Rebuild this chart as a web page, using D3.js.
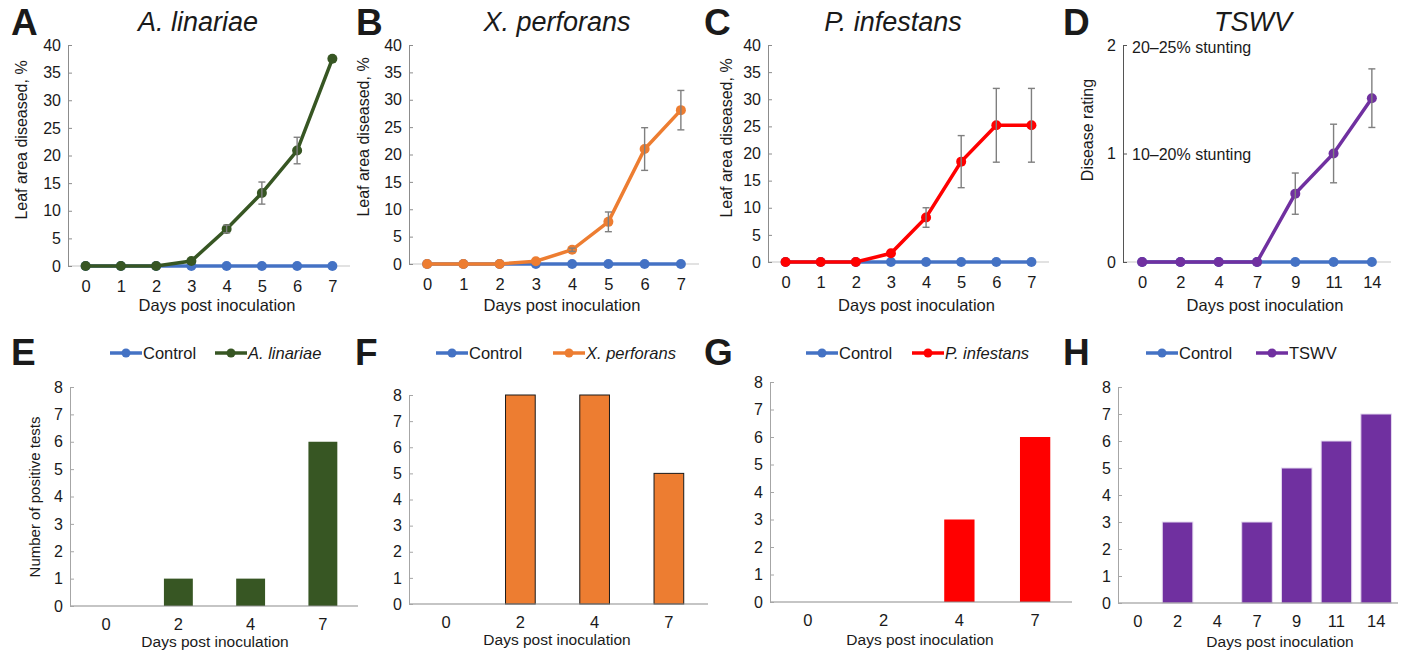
<!DOCTYPE html>
<html>
<head>
<meta charset="utf-8">
<script src="https://cdn.jsdelivr.net/npm/d3@7"></script>
<style>
    body { margin: 0; background: #fff; }
    svg text { font-family: "Liberation Sans", Arial, sans-serif; fill: #1a1a1a; }
</style>
</head>
<body>
<svg id="chart" width="1402" height="651"></svg>
<script>
// Tick labels (days post inoculation)
const daysTop = ["0", "1", "2", "3", "4", "5", "6", "7"];
const daysTSWV = ["0", "2", "4", "7", "9", "11", "14"];
const daysTested = ["0", "2", "4", "7"];

// Leaf area diseased, % (mean and error)
const controlTop = [0, 0, 0, 0, 0, 0, 0, 0];
const linariaeMean = [0, 0, 0, 0.9, 6.7, 13.2, 20.9, 37.5];
const linariaeErr = [0, 0, 0, 0, 0.7, 2.0, 2.4, 0];
const perforansMean = [0, 0, 0, 0.5, 2.6, 7.7, 21.0, 28.1];
const perforansErr = [0, 0, 0, 0, 0.3, 1.8, 3.9, 3.6];
const infestansMean = [0, 0, 0, 1.6, 8.2, 18.5, 25.2, 25.2];
const infestansErr = [0, 0, 0, 0, 1.8, 4.8, 6.8, 6.8];

// Disease rating for TSWV
const controlTSWV = [0, 0, 0, 0, 0, 0, 0];
const tswvMean = [0, 0, 0, 0, 0.63, 1.0, 1.51];
const tswvErr = [0, 0, 0, 0, 0.19, 0.27, 0.27];

// Number of positive tests
const linariaePositive = [0, 1, 1, 6];
const perforansPositive = [0, 8, 8, 5];
const infestansPositive = [0, 0, 3, 6];
const tswvPositive = [0, 3, 0, 3, 5, 6, 7];

const COLORS = {
    control: "#4472c4",
    linariae: "#375623",
    perforans: "#ed7d31",
    infestans: "#ff0000",
    tswv: "#7030a0"
};

const svg = d3.select("#chart");

function panelLetter(letter, x, y) {
    svg.append("text")
        .attr("x", x).attr("y", y)
        .attr("font-size", 37).attr("font-weight", "bold")
        .text(letter);
}

function drawLinePanel(p) {
    const g = svg.append("g");
    const x = d3.scalePoint().domain(p.days).range([p.left, p.right]).padding(0.5);
    const y = d3.scaleLinear().domain([0, p.yMax]).range([p.bottom, p.top]);

    panelLetter(p.letter, p.letterX, 35);

    g.append("text")
        .attr("x", p.titleX).attr("y", 31)
        .attr("text-anchor", "middle")
        .attr("font-size", 27).attr("font-style", "italic")
        .text(p.title);

    // baseline
    g.append("line")
        .attr("x1", p.left).attr("x2", p.right)
        .attr("y1", y(0)).attr("y2", y(0))
        .attr("stroke", "#d9d9d9").attr("stroke-width", 1.5);

    const yAxis = d3.axisLeft(y).tickValues(p.yTicks).tickFormat(d3.format("d"))
        .tickSize(-4).tickSizeOuter(0).tickPadding(7);
    g.append("g")
        .attr("transform", `translate(${p.left},0)`)
        .call(yAxis)
        .call(a => a.select(".domain").attr("stroke", p.yAxisColor))
        .call(a => a.selectAll(".tick line").attr("stroke", p.yAxisColor))
        .call(a => a.selectAll(".tick text").attr("font-size", 16).attr("fill", "#1a1a1a"));

    const xAxis = d3.axisBottom(x).tickSize(0).tickPadding(14);
    g.append("g")
        .attr("transform", `translate(0,${y(0)})`)
        .call(xAxis)
        .call(a => a.select(".domain").remove())
        .call(a => a.selectAll(".tick text").attr("font-size", 16.5).attr("fill", "#1a1a1a"));

    g.append("text")
        .attr("x", (p.left + p.right) / 2 + 8).attr("y", 311)
        .attr("text-anchor", "middle").attr("font-size", 16.5)
        .text("Days post inoculation");

    g.append("text")
        .attr("transform", `translate(${p.ylabelX},${p.ylabelY}) rotate(-90)`)
        .attr("text-anchor", "middle").attr("font-size", 16)
        .text(p.ylabel);

    (p.notes || []).forEach(n => {
        g.append("text")
            .attr("x", p.left + 9).attr("y", y(n.value) + n.dy)
            .attr("font-size", 16)
            .text(n.text);
    });

    const line = d3.line().x((d, i) => x(p.days[i])).y(d => y(d));

    // control first, infected on top
    [{ values: p.control, color: COLORS.control }, { values: p.mean, color: p.color }].forEach(s => {
        g.append("path")
            .attr("d", line(s.values))
            .attr("fill", "none")
            .attr("stroke", s.color)
            .attr("stroke-width", 3.5);
        g.selectAll(null)
            .data(s.values)
            .enter().append("circle")
            .attr("cx", (d, i) => x(p.days[i]))
            .attr("cy", d => y(d))
            .attr("r", 5)
            .attr("fill", s.color);
    });

    // error bars
    const errs = p.mean.map((m, i) => ({ day: p.days[i], m: m, e: p.err[i] })).filter(d => d.e > 0);
    const eb = g.selectAll(null).data(errs).enter().append("g")
        .attr("stroke", "#7f7f7f").attr("stroke-width", 1.4);
    eb.append("line")
        .attr("x1", d => x(d.day)).attr("x2", d => x(d.day))
        .attr("y1", d => y(d.m - d.e)).attr("y2", d => y(d.m + d.e));
    eb.append("line")
        .attr("x1", d => x(d.day) - 3.5).attr("x2", d => x(d.day) + 3.5)
        .attr("y1", d => y(d.m - d.e)).attr("y2", d => y(d.m - d.e));
    eb.append("line")
        .attr("x1", d => x(d.day) - 3.5).attr("x2", d => x(d.day) + 3.5)
        .attr("y1", d => y(d.m + d.e)).attr("y2", d => y(d.m + d.e));
}

function drawBarPanel(p) {
    const g = svg.append("g");
    const x = d3.scaleBand().domain(p.days).range([p.left, p.right])
        .paddingInner(p.pad).paddingOuter(p.pad / 2);
    const y = d3.scaleLinear().domain([0, 8]).range([p.bottom, p.top]);

    panelLetter(p.letter, p.letterX, 365);

    // legend
    const legend = [
        { label: "Control", color: COLORS.control, italic: false, x: p.legendX[0] },
        { label: p.name, color: p.color, italic: p.italic, x: p.legendX[1] }
    ];
    legend.forEach(l => {
        g.append("line")
            .attr("x1", l.x).attr("x2", l.x + 32)
            .attr("y1", 353).attr("y2", 353)
            .attr("stroke", l.color).attr("stroke-width", 3.5);
        g.append("circle")
            .attr("cx", l.x + 16).attr("cy", 353).attr("r", 4.5)
            .attr("fill", l.color);
        g.append("text")
            .attr("x", l.x + 33).attr("y", 359)
            .attr("font-size", 16.5)
            .attr("font-style", l.italic ? "italic" : "normal")
            .text(l.label);
    });

    g.selectAll(null)
        .data(p.values)
        .enter().append("rect")
        .attr("x", (d, i) => x(p.days[i]))
        .attr("y", d => y(d))
        .attr("width", x.bandwidth())
        .attr("height", d => y(0) - y(d))
        .attr("fill", p.color)
        .attr("stroke", p.barStroke)
        .attr("stroke-width", p.barStroke === "none" ? 0 : 1);

    g.append("line")
        .attr("x1", p.left).attr("x2", p.baseEnd)
        .attr("y1", y(0)).attr("y2", y(0))
        .attr("stroke", "#8c8c8c").attr("stroke-width", 1.2);

    const yAxis = d3.axisLeft(y).ticks(8).tickSize(-4).tickSizeOuter(0).tickPadding(7);
    g.append("g")
        .attr("transform", `translate(${p.left},0)`)
        .call(yAxis)
        .call(a => a.select(".domain").attr("stroke", "#a6a6a6"))
        .call(a => a.selectAll(".tick line").attr("stroke", "#a6a6a6"))
        .call(a => a.selectAll(".tick text").attr("font-size", 16).attr("fill", "#1a1a1a"));

    const xAxis = d3.axisBottom(x).tickSize(0).tickPadding(12);
    g.append("g")
        .attr("transform", `translate(0,${y(0)})`)
        .call(xAxis)
        .call(a => a.select(".domain").remove())
        .call(a => a.selectAll(".tick text").attr("font-size", 16.5).attr("fill", "#1a1a1a"));

    g.append("text")
        .attr("x", p.xlabelX).attr("y", p.xlabelY)
        .attr("text-anchor", "middle").attr("font-size", 15.5)
        .text("Days post inoculation");

    if (p.ylabel) {
        g.append("text")
            .attr("transform", `translate(${p.ylabelX},${p.ylabelY}) rotate(-90)`)
            .attr("text-anchor", "middle").attr("font-size", 15)
            .text(p.ylabel);
    }
}

// Top row: disease progress
drawLinePanel({
    letter: "A", letterX: 11, title: "A. linariae", titleX: 198,
    days: daysTop, control: controlTop, mean: linariaeMean, err: linariaeErr, color: COLORS.linariae,
    left: 68, right: 350, top: 45, bottom: 266, yMax: 40, yTicks: d3.range(0, 41, 5),
    yAxisColor: "#8c8c8c", ylabel: "Leaf area diseased, %", ylabelX: 27, ylabelY: 140
});
drawLinePanel({
    letter: "B", letterX: 356, title: "X. perforans", titleX: 557,
    days: daysTop, control: controlTop, mean: perforansMean, err: perforansErr, color: COLORS.perforans,
    left: 409, right: 699, top: 45, bottom: 264, yMax: 40, yTicks: d3.range(0, 41, 5),
    yAxisColor: "#8c8c8c", ylabel: "Leaf area diseased, %", ylabelX: 369, ylabelY: 137
});
drawLinePanel({
    letter: "C", letterX: 704, title: "P. infestans", titleX: 893,
    days: daysTop, control: controlTop, mean: infestansMean, err: infestansErr, color: COLORS.infestans,
    left: 768, right: 1049, top: 45, bottom: 262, yMax: 40, yTicks: d3.range(0, 41, 5),
    yAxisColor: "#8c8c8c", ylabel: "Leaf area diseased, %", ylabelX: 732, ylabelY: 138
});
drawLinePanel({
    letter: "D", letterX: 1063, title: "TSWV", titleX: 1253,
    days: daysTSWV, control: controlTSWV, mean: tswvMean, err: tswvErr, color: COLORS.tswv,
    left: 1123, right: 1391, top: 45, bottom: 262, yMax: 2, yTicks: [0, 1, 2],
    yAxisColor: "#555", ylabel: "Disease rating", ylabelX: 1093, ylabelY: 130,
    notes: [{ value: 2, dy: 8, text: "20–25% stunting" }, { value: 1, dy: 6, text: "10–20% stunting" }]
});

// Bottom row: positive tests
drawBarPanel({
    letter: "E", letterX: 11, name: "A. linariae", italic: true, color: COLORS.linariae, barStroke: "none",
    days: daysTested, values: linariaePositive, pad: 0.6,
    left: 70, right: 359, baseEnd: 358, top: 387, bottom: 606, legendX: [110, 215],
    xlabelX: 215, xlabelY: 647, ylabel: "Number of positive tests", ylabelX: 40, ylabelY: 497
});
drawBarPanel({
    letter: "F", letterX: 355, name: "X. perforans", italic: true, color: COLORS.perforans, barStroke: "#1a1a1a",
    days: daysTested, values: perforansPositive, pad: 0.6,
    left: 409, right: 706, baseEnd: 708, top: 395, bottom: 604, legendX: [436, 553],
    xlabelX: 557, xlabelY: 645
});
drawBarPanel({
    letter: "G", letterX: 704, name: "P. infestans", italic: true, color: COLORS.infestans, barStroke: "none",
    days: daysTested, values: infestansPositive, pad: 0.6,
    left: 770, right: 1073, baseEnd: 1072, top: 382, bottom: 602, legendX: [806, 912],
    xlabelX: 920, xlabelY: 645
});
drawBarPanel({
    letter: "H", letterX: 1063, name: "TSWV", italic: false, color: COLORS.tswv, barStroke: "#e4d9ef",
    days: daysTSWV, values: tswvPositive, pad: 0.23,
    left: 1118, right: 1396, baseEnd: 1398, top: 387, bottom: 603, legendX: [1146, 1256],
    xlabelX: 1280, xlabelY: 647
});
</script>
</body>
</html>
